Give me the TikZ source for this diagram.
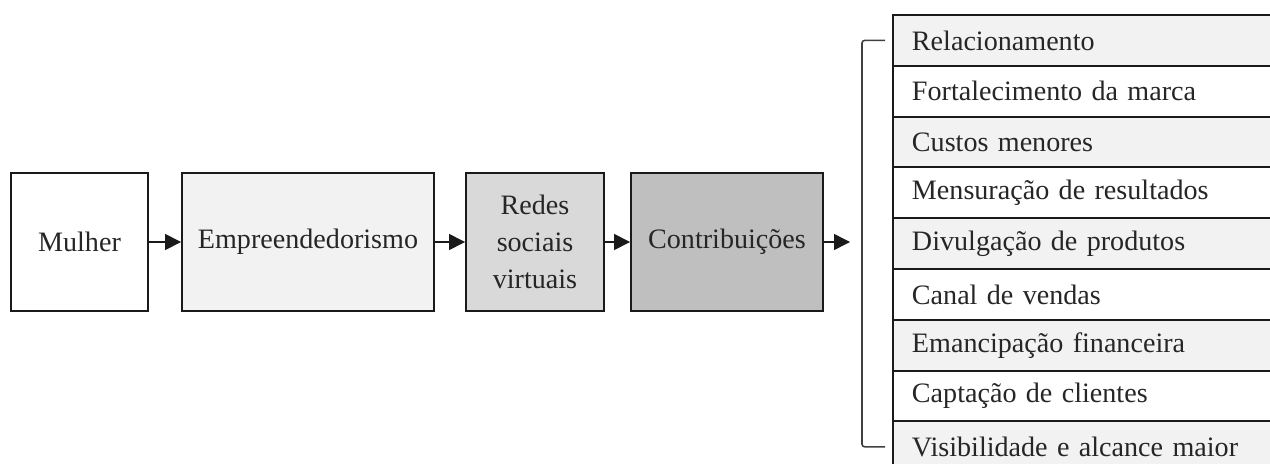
\documentclass[tikz,border=0pt]{standalone}
\usepackage{fontspec}
\setmainfont{Liberation Serif}
\usetikzlibrary{arrows.meta}
\definecolor{stageLight}{HTML}{F2F2F2}
\definecolor{stageMid}{HTML}{D9D9D9}
\definecolor{stageDark}{HTML}{BFBFBF}
\definecolor{lineDark}{HTML}{1A1A1A}
\definecolor{textDark}{HTML}{262626}
\definecolor{braceGrey}{HTML}{404040}
\tikzset{
  stagebox/.style={rectangle, draw=lineDark, fill=#1, line width=1.1pt, align=center, text=textDark, font=\fontsize{16}{21}\selectfont, minimum height=2.76cm, inner sep=2pt},
  itembox/.style={rectangle, draw=lineDark, fill=#1, line width=1.1pt, align=left, anchor=west, text=textDark, font=\fontsize{16}{19}\selectfont, text width=7.0cm, minimum height=1.016cm, inner xsep=0.38cm, inner ysep=0pt},
  stagearrow/.style={-{Triangle[length=3.2mm,width=3.2mm]}, line width=0.8pt, draw=lineDark},
  braceline/.style={draw=braceGrey, line width=0.9pt, rounded corners=1.5pt},
}
\begin{document}
\begin{tikzpicture}[x=0.02cm,y=-0.02cm]
  \useasboundingbox (0,0) rectangle (1270,463);
  % main chain
  \node[stagebox=white, minimum width=2.74cm] (mulher) at (79.5,242) {Mulher};
  \node[stagebox=stageLight, minimum width=5.04cm] (empre) at (308,242) {Empreendedorismo};
  \node[stagebox=stageMid, minimum width=2.76cm] (redes) at (535,242) {Redes\\ sociais\\ virtuais};
  \node[stagebox=stageDark, minimum width=3.84cm] (contrib) at (727,242) {Contribuições};
  \coordinate (tip) at (850,242);

  \draw[stagearrow] (mulher.east) -- (empre.west);
  \draw[stagearrow] (empre.east) -- (redes.west);
  \draw[stagearrow] (redes.east) -- (contrib.west);
  \draw[stagearrow] (contrib.east) -- (tip);

  % list of contributions
  \foreach \txt [count=\i, evaluate=\i as \ypos using 15+50.8*(\i-0.5)] in
    {Relacionamento, Fortalecimento da marca, Custos menores,
     Mensuração de resultados, Divulgação de produtos, Canal de vendas,
     Emancipação financeira, Captação de clientes, Visibilidade e alcance maior} {
    \ifodd\i \def\rowfill{stageLight}\else \def\rowfill{white}\fi
    \node[itembox=\rowfill] (item\i) at (892,\ypos) {\txt};
  }

  \draw[braceline] ([xshift=-0.14cm]item1.west) -- ++(-23,0) |- ([xshift=-0.14cm]item9.west);
\end{tikzpicture}
\end{document}
